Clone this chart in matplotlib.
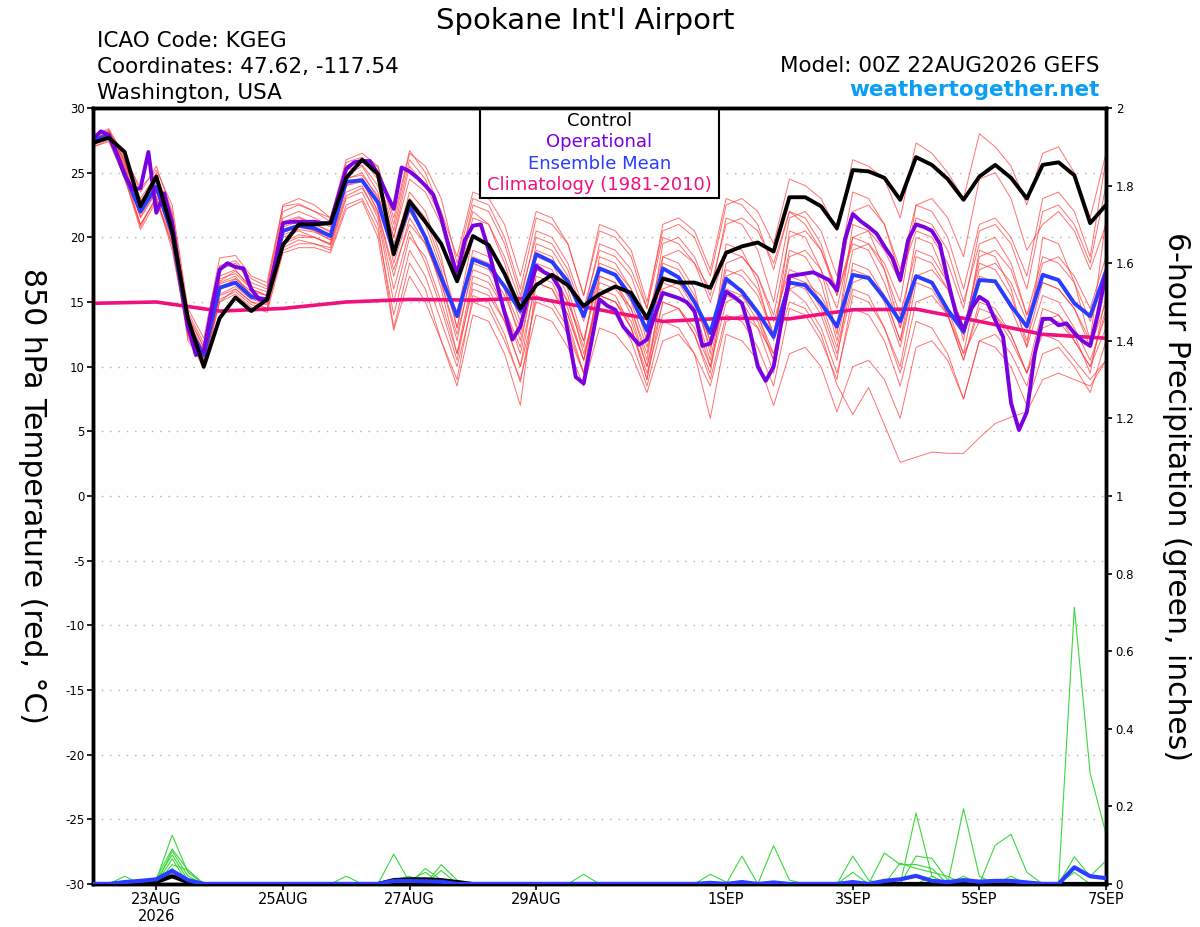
import numpy as np
import matplotlib
matplotlib.use("Agg")
import matplotlib.pyplot as plt
from matplotlib.patches import Rectangle

plt.rcParams['font.family'] = ['DejaVu Sans']

# ---------------- data ----------------
# 6-hourly forecast steps (days since 00Z 22AUG2026)
steps_6h = np.arange(65) * 0.25
steps_3h = np.arange(129) * 0.125
clim_days = np.arange(17)

control = [27.3, 27.7, 26.6, 22.4, 24.7, 20.5, 13.7, 10.0, 13.75, 15.35, 14.3, 15.2, 19.4, 21.0, 21.0, 21.1,
           24.6, 26.0, 24.9, 18.7, 22.8, 21.2, 19.5, 16.6, 20.1, 19.4, 17.2, 14.5, 16.3, 17.1, 16.3, 14.7,
           15.6, 16.2, 15.7, 13.75, 16.8, 16.5, 16.5, 16.1, 18.8, 19.3, 19.6, 18.9, 23.1, 23.1, 22.4, 20.7,
           25.2, 25.1, 24.6, 22.9, 26.2, 25.6, 24.5, 22.9, 24.7, 25.6, 24.6, 23.0, 25.6, 25.8, 24.8, 21.1, 22.5]

ens_mean = [27.5, 27.9, 24.9, 22.0, 23.9, 20.3, 13.1, 10.9, 16.1, 16.5, 15.4, 15.2, 20.5, 20.9, 20.7, 20.1,
            24.3, 24.4, 22.7, 18.9, 22.4, 20.0, 16.9, 13.9, 18.3, 17.8, 16.2, 14.3, 18.7, 18.1, 16.6, 13.9,
            17.6, 17.1, 15.4, 12.8, 17.6, 16.9, 15.0, 12.6, 16.8, 15.8, 14.2, 12.3, 16.5, 16.3, 14.9, 13.1,
            17.1, 16.85, 15.3, 13.5, 17.0, 16.5, 14.4, 12.7, 16.7, 16.6, 14.7, 13.1, 17.1, 16.7, 14.9, 13.9, 17.4]

operational = [27.6, 28.2, 27.9, 26.5, 24.8, 23.7, 23.8, 26.6, 21.9, 23.4, 21.1, 17.0, 13.1, 10.9, 11.2, 14.5,
               17.5, 18.0, 17.7, 17.6, 16.0, 15.2, 15.2, 18.0, 21.1, 21.2, 21.2, 21.2, 21.2, 21.1, 21.1, 23.2,
               25.3, 25.8, 25.9, 25.9, 24.9, 23.5, 22.2, 25.4, 25.1, 24.6, 24.0, 23.3, 21.5, 19.2, 17.1, 19.8,
               20.9, 21.0, 19.0, 16.5, 14.2, 12.1, 13.1, 15.5, 17.8, 17.3, 17.0, 16.0, 12.7, 9.2, 8.7, 12.0,
               15.2, 14.7, 14.4, 13.1, 12.4, 11.7, 12.1, 14.0, 15.7, 15.5, 15.3, 15.0, 14.3, 11.6, 11.8, 13.8,
               15.8, 15.4, 14.9, 12.8, 10.0, 8.9, 10.0, 13.5, 17.0, 17.1, 17.2, 17.3, 17.0, 16.7, 15.9, 19.8,
               21.8, 21.25, 20.8, 20.3, 19.3, 18.4, 16.7, 19.8, 21.0, 20.8, 20.5, 19.5, 16.7, 14.2, 12.85, 14.5,
               15.4, 15.0, 13.6, 12.3, 7.2, 5.1, 6.5, 11.0, 13.7, 13.7, 13.2, 13.35, 12.6, 12.0, 11.6, 14.1, 17.2]

climatology = [14.9, 15.0, 14.3, 14.5, 15.0, 15.2, 15.15, 15.3, 14.4, 13.5, 13.75, 13.7, 14.4, 14.45, 13.5, 12.5, 12.2]

members = [
    [27.8, 28.3, 26.0, 22.5, 25.0, 21.0, 13.8, 11.5, 17.0, 17.5, 16.0, 15.5, 21.5, 22.0, 21.5, 20.8, 25.5, 26.0, 24.5, 20.0, 25.5, 24.0, 21.5, 17.5, 22.0, 21.0, 18.5, 15.0, 20.5, 20.0, 18.0, 14.5, 19.0, 18.5, 17.0, 13.5, 18.5, 19.0, 18.0, 16.0, 21.0, 21.5, 20.5, 18.0, 22.0, 21.0, 19.0, 15.5, 19.5, 19.0, 16.5, 13.0, 17.0, 16.5, 14.0, 10.5, 14.5, 14.0, 12.0, 9.5, 13.0, 13.5, 12.0, 10.0, 14.5],
    [27.0, 27.5, 25.0, 21.0, 23.0, 19.5, 12.5, 10.5, 15.0, 16.0, 15.0, 14.5, 19.0, 19.5, 19.5, 19.0, 22.5, 23.0, 20.5, 14.0, 19.0, 17.0, 13.5, 10.0, 15.0, 14.5, 12.0, 9.0, 14.0, 13.5, 11.5, 8.5, 13.0, 12.5, 11.0, 8.0, 12.0, 12.5, 11.0, 8.5, 13.5, 14.0, 13.0, 11.0, 16.0, 16.5, 15.5, 13.0, 19.0, 19.5, 18.0, 15.0, 22.5, 23.0, 21.5, 18.5, 24.5, 25.0, 23.0, 19.0, 21.0, 22.0, 20.5, 17.5, 21.0],
    [27.5, 28.0, 25.5, 22.0, 24.0, 20.5, 13.0, 11.0, 16.5, 17.0, 15.5, 15.0, 20.0, 20.5, 20.0, 19.5, 24.0, 24.5, 22.0, 17.0, 21.5, 19.5, 16.5, 12.5, 17.5, 17.0, 14.5, 11.0, 16.5, 16.0, 14.0, 10.5, 15.5, 15.0, 13.0, 9.5, 14.0, 14.5, 13.0, 10.0, 15.0, 15.5, 14.0, 11.0, 15.0, 14.5, 12.5, 8.6, 6.3, 8.4, 5.5, 2.6, 3.0, 3.4, 3.3, 3.3, 4.5, 5.6, 6.1, 6.5, 9.0, 9.5, 9.0, 8.5, 10.5],
    [27.6, 28.1, 26.5, 23.5, 25.5, 22.0, 14.0, 11.5, 17.5, 18.0, 16.5, 16.0, 22.0, 22.5, 22.0, 21.5, 25.5, 26.0, 25.5, 21.0, 26.5, 25.5, 23.0, 18.0, 23.0, 22.5, 20.0, 16.0, 21.5, 21.0, 19.5, 15.5, 21.0, 20.5, 19.0, 15.0, 20.5, 21.0, 20.0, 17.0, 22.5, 23.0, 22.0, 19.5, 24.5, 24.0, 23.0, 20.5, 26.0, 25.5, 24.5, 21.5, 27.3, 26.5, 25.0, 23.0, 28.0, 27.0, 25.5, 22.5, 26.5, 27.0, 25.0, 21.5, 26.5],
    [27.2, 27.8, 25.0, 21.5, 23.5, 20.0, 12.8, 10.0, 15.5, 16.0, 15.0, 14.8, 19.5, 20.0, 20.0, 19.5, 23.5, 24.0, 21.5, 15.0, 20.0, 18.5, 15.0, 11.0, 17.0, 16.5, 14.5, 11.5, 18.0, 17.5, 15.0, 12.0, 17.5, 17.0, 15.0, 11.5, 16.5, 16.0, 14.0, 10.0, 16.0, 15.5, 13.5, 10.5, 17.0, 16.5, 14.5, 11.0, 16.0, 15.5, 13.0, 9.5, 15.0, 15.5, 14.0, 11.0, 17.0, 16.5, 14.5, 11.5, 15.5, 15.0, 13.0, 10.5, 14.0],
    [27.4, 28.2, 25.8, 22.8, 24.5, 21.5, 13.5, 11.0, 16.0, 16.8, 15.8, 15.5, 21.0, 21.5, 21.0, 20.5, 24.5, 25.0, 23.0, 19.0, 23.5, 22.0, 18.5, 13.0, 18.5, 18.0, 16.0, 13.0, 19.5, 19.0, 17.0, 13.5, 18.0, 17.5, 16.0, 12.5, 18.0, 17.5, 15.5, 12.0, 17.5, 17.0, 15.5, 12.5, 18.5, 19.0, 17.5, 14.5, 20.0, 20.5, 19.0, 16.5, 21.5, 21.0, 19.0, 15.0, 19.5, 20.0, 18.0, 14.0, 18.5, 18.0, 16.5, 13.5, 17.0],
    [27.7, 28.0, 25.2, 22.3, 24.2, 20.8, 13.2, 11.3, 16.8, 17.2, 16.0, 15.5, 20.8, 21.2, 20.5, 19.8, 24.8, 25.5, 23.5, 18.0, 22.0, 20.0, 16.0, 11.0, 16.0, 15.5, 13.5, 10.0, 15.0, 14.5, 12.5, 9.5, 14.5, 14.0, 12.0, 8.5, 13.5, 13.0, 11.0, 6.0, 12.5, 12.0, 10.5, 7.0, 11.0, 11.5, 10.0, 6.5, 10.0, 10.5, 9.0, 6.0, 11.5, 12.0, 10.5, 7.5, 12.0, 12.5, 11.0, 8.5, 13.5, 14.0, 12.5, 9.5, 15.5],
    [27.3, 27.6, 24.5, 21.0, 23.0, 19.8, 12.0, 10.2, 15.2, 15.8, 14.8, 14.5, 19.2, 19.8, 19.5, 19.2, 23.0, 23.5, 21.0, 13.0, 18.0, 16.0, 12.0, 8.5, 14.0, 13.5, 11.0, 7.0, 16.5, 16.0, 13.5, 9.5, 17.0, 16.5, 14.5, 10.5, 18.5, 18.0, 16.0, 11.0, 19.5, 19.0, 16.5, 12.0, 20.5, 20.0, 17.5, 12.5, 21.0, 20.5, 17.5, 13.0, 20.0, 19.5, 16.5, 12.0, 19.0, 18.5, 16.0, 11.5, 20.0, 19.5, 16.5, 12.0, 21.5],
    [27.5, 28.2, 25.8, 22.2, 24.4, 20.6, 13.4, 10.8, 16.4, 16.8, 15.6, 15.2, 20.4, 20.8, 20.5, 20.0, 24.6, 24.8, 23.2, 20.0, 24.5, 23.5, 21.0, 16.5, 21.5, 21.0, 18.0, 14.0, 18.5, 18.0, 15.5, 11.0, 15.5, 15.0, 13.5, 10.0, 16.0, 16.5, 15.0, 12.0, 18.0, 18.5, 17.0, 14.0, 20.0, 20.5, 19.0, 16.0, 22.0, 22.5, 21.0, 17.5, 22.5, 22.0, 20.0, 16.0, 21.0, 21.5, 20.0, 17.0, 23.0, 23.5, 22.0, 18.5, 26.0],
    [27.6, 27.9, 25.4, 21.8, 23.8, 20.2, 13.0, 10.6, 16.0, 16.4, 15.3, 15.0, 20.2, 20.6, 20.4, 19.8, 24.0, 24.3, 22.0, 17.5, 21.0, 19.5, 16.5, 12.0, 18.0, 17.5, 15.5, 12.5, 19.0, 18.5, 16.0, 12.0, 17.0, 16.5, 14.0, 10.0, 15.0, 14.5, 12.5, 9.0, 14.0, 13.5, 11.5, 8.5, 14.5, 14.0, 12.0, 9.0, 15.5, 15.0, 13.0, 10.0, 16.5, 16.0, 14.0, 10.5, 15.0, 14.5, 12.5, 9.5, 14.5, 14.0, 12.0, 10.0, 13.0],
    [27.3, 28.0, 25.6, 23.0, 24.8, 21.8, 14.2, 11.8, 17.8, 18.2, 16.8, 16.2, 22.4, 22.6, 22.0, 21.2, 25.8, 26.2, 24.8, 20.5, 26.0, 24.5, 21.5, 17.0, 22.5, 22.0, 19.5, 15.5, 20.0, 19.5, 17.5, 14.0, 19.5, 19.0, 17.5, 14.5, 20.0, 19.5, 18.0, 15.0, 19.0, 18.5, 17.0, 13.5, 17.5, 17.0, 15.0, 11.5, 16.5, 17.0, 15.5, 12.0, 18.5, 18.0, 16.0, 12.5, 17.5, 18.0, 16.5, 13.5, 18.0, 18.5, 17.0, 14.5, 18.5],
    [27.1, 27.7, 24.8, 20.8, 23.2, 19.0, 12.6, 10.4, 15.6, 16.2, 15.2, 14.9, 19.6, 20.2, 20.0, 19.4, 23.2, 23.8, 21.8, 16.0, 20.5, 18.0, 14.5, 10.5, 16.5, 16.0, 13.5, 10.0, 17.0, 16.5, 14.0, 10.5, 16.0, 15.5, 13.0, 9.0, 17.0, 16.5, 14.5, 10.5, 16.5, 16.0, 14.0, 10.5, 16.0, 15.0, 13.0, 9.5, 14.5, 14.0, 12.0, 8.5, 13.5, 13.0, 11.0, 7.5, 12.0, 11.5, 10.0, 7.0, 11.0, 11.5, 10.0, 8.0, 12.0],
    [27.9, 28.4, 26.2, 23.8, 25.2, 22.5, 14.5, 12.2, 18.4, 18.6, 17.0, 16.5, 22.5, 23.0, 22.5, 21.5, 26.0, 26.5, 25.5, 21.5, 26.7, 25.0, 22.0, 18.5, 23.5, 23.0, 21.0, 17.0, 22.0, 21.5, 19.5, 15.5, 20.5, 20.0, 18.5, 14.5, 21.0, 21.5, 20.5, 17.5, 23.0, 22.5, 21.0, 17.5, 22.0, 21.5, 19.5, 15.5, 20.0, 19.5, 17.5, 14.0, 19.0, 18.5, 16.5, 13.0, 18.0, 17.5, 15.5, 12.0, 16.5, 16.0, 14.5, 11.5, 15.0],
    [27.0, 27.4, 24.6, 20.6, 22.8, 19.4, 12.3, 9.8, 15.0, 15.6, 14.6, 14.2, 18.8, 19.2, 19.2, 18.8, 22.2, 22.8, 20.0, 12.8, 17.0, 15.0, 12.0, 9.0, 15.5, 15.0, 12.5, 8.8, 15.5, 15.0, 13.0, 9.5, 15.5, 15.0, 13.0, 9.0, 15.0, 14.5, 12.5, 9.5, 17.0, 17.5, 16.0, 12.5, 19.0, 18.5, 16.5, 12.0, 17.5, 17.0, 15.0, 11.5, 17.0, 17.5, 16.0, 12.5, 18.5, 19.0, 17.5, 14.0, 16.5, 16.0, 14.5, 12.0, 17.5],
    [27.6, 28.2, 25.9, 22.6, 24.6, 21.2, 13.6, 11.2, 16.6, 17.4, 16.2, 15.8, 21.2, 21.6, 21.0, 20.4, 25.2, 25.6, 24.0, 19.5, 23.0, 21.5, 18.0, 14.0, 20.0, 19.5, 17.0, 13.5, 17.5, 17.0, 15.0, 11.5, 18.5, 18.0, 16.0, 12.0, 19.5, 20.0, 18.5, 15.5, 21.5, 21.0, 19.0, 15.0, 21.5, 22.0, 20.5, 17.0, 23.5, 23.0, 21.0, 17.0, 20.5, 20.0, 18.0, 14.5, 20.5, 21.0, 19.5, 16.0, 22.0, 22.5, 21.0, 18.0, 24.0],
    [27.4, 27.9, 25.3, 21.6, 23.6, 20.0, 12.9, 10.7, 16.2, 16.6, 15.4, 15.1, 20.6, 21.0, 20.8, 20.2, 24.2, 24.6, 22.6, 18.5, 22.5, 21.0, 17.5, 13.0, 19.0, 18.5, 16.0, 12.0, 17.5, 17.0, 14.5, 10.5, 16.5, 16.0, 14.5, 11.0, 17.5, 17.0, 15.0, 11.5, 15.5, 15.0, 13.0, 9.5, 16.5, 16.0, 14.0, 10.5, 18.0, 17.5, 15.5, 12.0, 17.0, 16.5, 14.5, 11.0, 13.5, 14.0, 12.5, 9.5, 12.5, 12.0, 10.5, 9.0, 10.5],
]

# 6-hour precipitation (inches), non-zero steps only {step index: value}
precip_members = [
    {2: 0.02, 4: 0.01, 5: 0.126, 6: 0.03, 19: 0.077, 20: 0.005, 52: 0.183, 53: 0.02},
    {4: 0.015, 5: 0.09, 6: 0.036, 21: 0.04, 22: 0.01, 55: 0.194, 56: 0.02},
    {5: 0.085, 6: 0.02, 22: 0.05, 23: 0.01, 57: 0.1, 58: 0.128, 59: 0.03},
    {4: 0.01, 5: 0.075, 6: 0.01, 41: 0.072, 62: 0.713, 63: 0.285, 64: 0.13},
    {5: 0.065, 20: 0.01, 21: 0.03, 43: 0.099, 44: 0.01, 50: 0.08, 51: 0.05, 52: 0.05, 53: 0.04},
    {5: 0.05, 6: 0.036, 16: 0.02, 31: 0.025, 48: 0.072, 49: 0.01, 52: 0.072, 53: 0.066, 54: 0.01, 62: 0.07, 63: 0.02, 64: 0.06},
    {3: 0.01, 5: 0.04, 39: 0.025, 40: 0.005, 48: 0.03, 51: 0.054, 52: 0.04, 53: 0.03, 54: 0.02},
    {5: 0.03, 19: 0.01, 20: 0.02, 22: 0.035, 53: 0.02, 55: 0.02, 58: 0.02, 62: 0.03},
]
precip_mean = {2: 0.005, 3: 0.008, 4: 0.012, 5: 0.034, 6: 0.01, 19: 0.008, 20: 0.008, 21: 0.007, 22: 0.006,
               39: 0.003, 41: 0.005, 43: 0.004, 48: 0.005, 50: 0.008, 51: 0.012, 52: 0.021, 53: 0.008,
               54: 0.005, 55: 0.01, 56: 0.006, 57: 0.008, 58: 0.008, 59: 0.004, 62: 0.043, 63: 0.02, 64: 0.015}
precip_control = {4: 0.005, 5: 0.02, 6: 0.005, 19: 0.01, 20: 0.012, 21: 0.012, 22: 0.01, 23: 0.005}

tick_days = [1, 3, 5, 7, 10, 12, 14, 16]
tick_labels = ["23AUG\n2026", "25AUG", "27AUG", "29AUG", "1SEP", "3SEP", "5SEP", "7SEP"]
temp_ticks = list(range(-30, 31, 5))
precip_ticks = [0, 0.2, 0.4, 0.6, 0.8, 1, 1.2, 1.4, 1.6, 1.8, 2]
precip_tick_labels = ["0", "0.2", "0.4", "0.6", "0.8", "1", "1.2", "1.4", "1.6", "1.8", "2"]


def dense(sparse):
    arr = np.zeros(len(steps_6h))
    for k, v in sparse.items():
        arr[k] = v
    return arr


# ---------------- figure ----------------
fig = plt.figure(figsize=(12, 9.27), dpi=100)
ax = fig.add_axes([93 / 1200, 1 - 884 / 927, (1106 - 93) / 1200, (884 - 108) / 927])
ax2 = ax.twinx()

C_RED = '#ff3b3b'
C_PURPLE = '#7a00e0'
C_BLUE = '#2a3cff'
C_CLIM = '#f0107e'
C_GREEN = '#3ad83a'

# grid
for t in temp_ticks[1:-1]:
    ax.axhline(t, color='#b0b0b0', lw=1.0, ls=(0, (1, 5)), zorder=0)

for m in members:
    ax.plot(steps_6h, m, color=C_RED, lw=0.7, alpha=0.72, zorder=2)
ax.plot(clim_days, climatology, color=C_CLIM, lw=2.6, zorder=3)
ax.plot(steps_6h, ens_mean, color=C_BLUE, lw=2.8, zorder=4)
ax.plot(steps_3h, operational, color=C_PURPLE, lw=2.8, zorder=5)
ax.plot(steps_6h, control, color='black', lw=2.8, zorder=6)

for pm in precip_members:
    ax2.plot(steps_6h, dense(pm), color=C_GREEN, lw=0.8, zorder=2)
ax2.plot(steps_6h, dense(precip_control), color='black', lw=3, zorder=3)
ax2.plot(steps_6h, dense(precip_mean), color=C_BLUE, lw=3, zorder=4)

ax.set_xlim(0, 16)
ax.set_ylim(-30, 30)
ax2.set_ylim(0, 2)

ax.set_xticks(tick_days)
ax.set_xticklabels(tick_labels, fontsize=10.5, linespacing=1.15)
ax.set_yticks(temp_ticks)
ax.set_yticklabels([str(t) for t in temp_ticks], fontsize=8.5)
ax2.set_yticks(precip_ticks)
ax2.set_yticklabels(precip_tick_labels, fontsize=8.5)

ax.tick_params(axis='both', direction='out', length=4, width=1.2, pad=2)
ax2.tick_params(axis='y', direction='out', length=4, width=1.2, pad=3)

for a in (ax, ax2):
    for s in a.spines.values():
        s.set_linewidth(2.5)

ax.set_ylabel("850 hPa Temperature (red, °C)", fontsize=21.5, rotation=-90, va='center')
ax2.set_ylabel("6-hour Precipitation (green, inches)", fontsize=21.5, rotation=-90, va='center')
ax.yaxis.set_label_coords(-0.06, 0.5)
ax2.yaxis.set_label_coords(1.07, 0.5)

# legend box
leg_x0, leg_x1 = (480 - 93) / 1013, (719 - 93) / 1013
leg_y1, leg_y0 = 1.0, 1 - (198 - 108) / 776
ax.add_patch(Rectangle((leg_x0, leg_y0), leg_x1 - leg_x0, leg_y1 - leg_y0, transform=ax.transAxes,
                       facecolor='white', edgecolor='black', lw=1.5, zorder=10))
leg_items = [("Control", 'black'), ("Operational", C_PURPLE), ("Ensemble Mean", C_BLUE),
             ("Climatology (1981-2010)", C_CLIM)]
leg_center = (leg_x0 + leg_x1) / 2
for k, (txt, col) in enumerate(leg_items):
    ypx = 121 + k * 21.3
    ax.text(leg_center, 1 - (ypx - 108) / 776, txt, color=col, fontsize=13, ha='center', va='center',
            transform=ax.transAxes, zorder=11)

# header
fig.text(0.4875, 1 - 29 / 927, "Spokane Int'l Airport", fontsize=21, ha='center', va='baseline')
fig.text(97 / 1200, 1 - 47 / 927, "ICAO Code: KGEG", fontsize=15.5, ha='left', va='baseline')
fig.text(97 / 1200, 1 - 73 / 927, "Coordinates: 47.62, -117.54", fontsize=15.5, ha='left', va='baseline')
fig.text(97 / 1200, 1 - 99 / 927, "Washington, USA", fontsize=15.5, ha='left', va='baseline')
fig.text(1100 / 1200, 1 - 72 / 927, "Model: 00Z 22AUG2026 GEFS", fontsize=15.5, ha='right', va='baseline')
fig.text(1100 / 1200, 1 - 96 / 927, "weathertogether.net", fontsize=15.5, ha='right', va='baseline',
         color='#0a9ff5', fontweight='bold')

fig.savefig("out.png", dpi=100)
